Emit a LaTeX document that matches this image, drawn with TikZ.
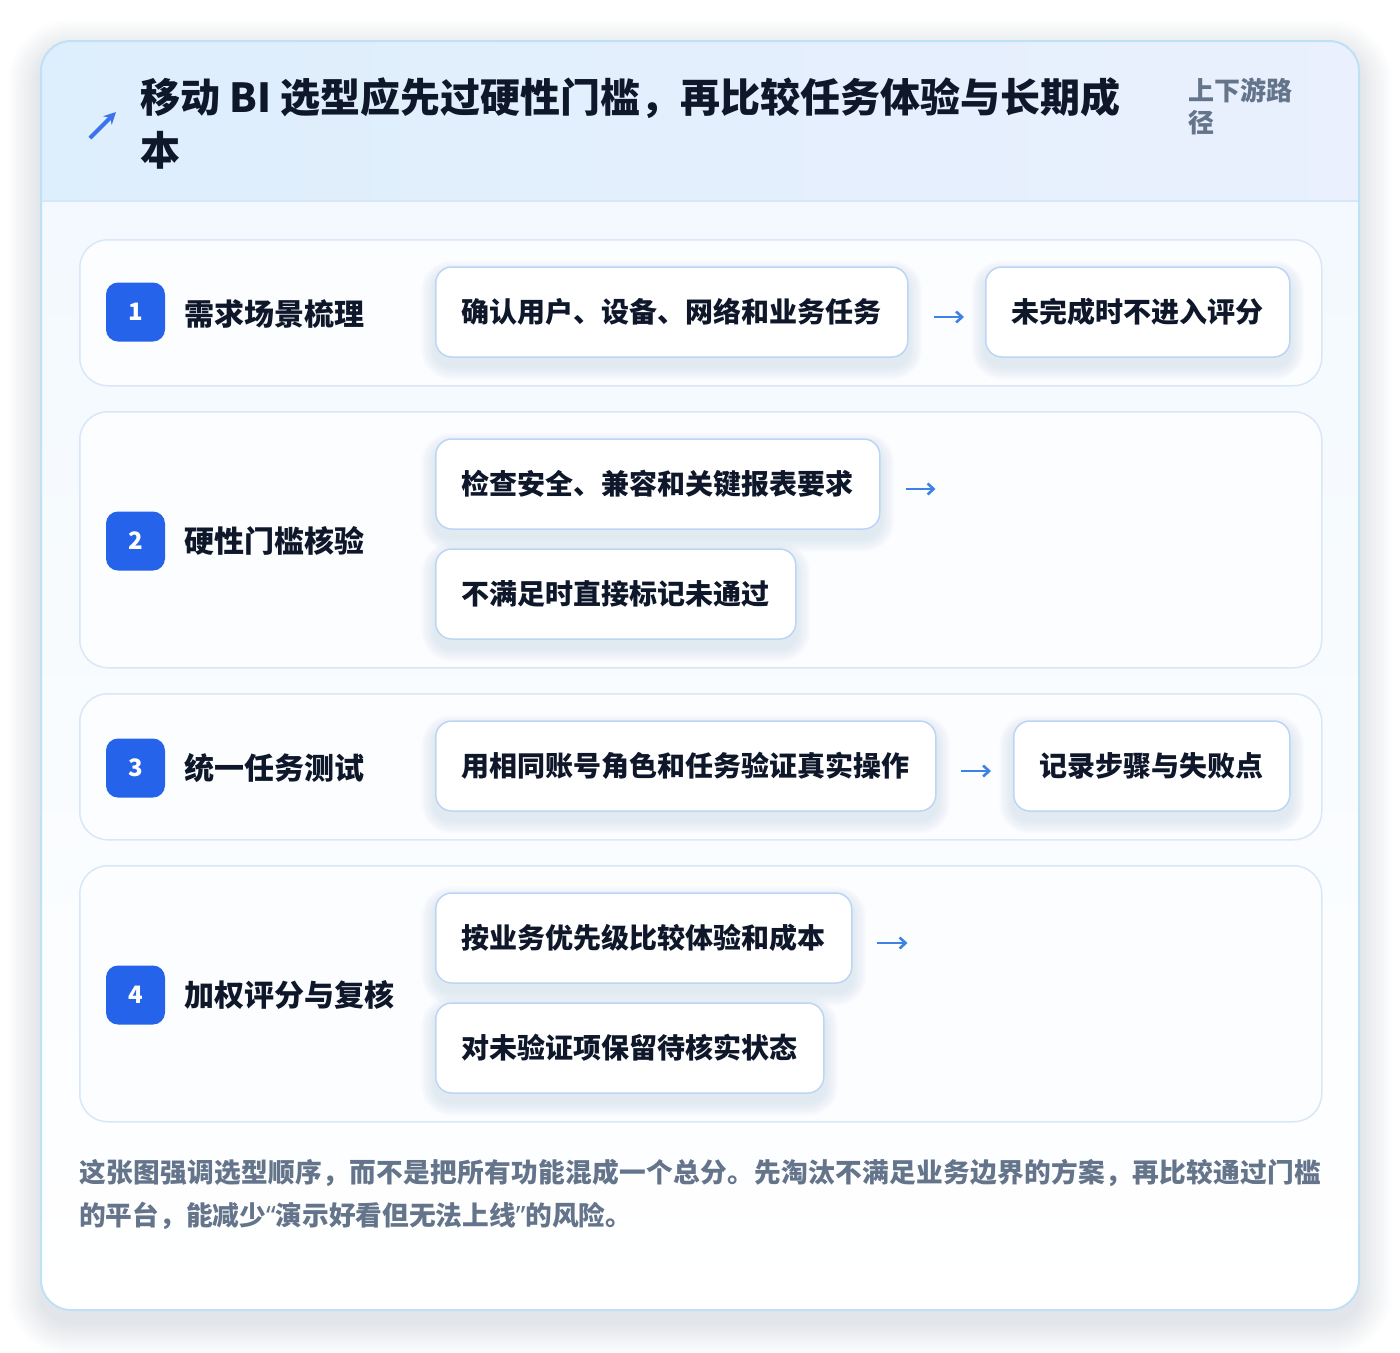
\documentclass[tikz,border=0pt]{standalone}
\usepackage{fontspec}
\setmainfont{Noto Sans CJK SC}
\newfontfamily\latinq{Noto Sans}
\usetikzlibrary{calc,arrows.meta}
\definecolor{ink}{HTML}{0F172A}
\definecolor{graytxt}{HTML}{64748B}
\definecolor{badgeblue}{HTML}{2563EB}
\definecolor{arrowblue}{HTML}{3F82E6}
\definecolor{boxline}{HTML}{BDD5F5}
\definecolor{panelline}{HTML}{D9E7F7}
\definecolor{panelfill}{HTML}{FBFDFF}
\definecolor{cardline}{HTML}{BFE1F5}
\definecolor{headl}{HTML}{DDEEFC}
\definecolor{headr}{HTML}{EAF0FD}
\definecolor{headline}{HTML}{D5E8F8}
\definecolor{bodytop}{HTML}{F1F8FE}
\definecolor{shadowcol}{HTML}{64748B}
\pgfdeclarelayer{bg}
\pgfdeclarelayer{panels}
\pgfdeclarelayer{shadow}
\pgfsetlayers{bg,panels,shadow,main}
\def\spreadaux#1#2{#1\ifx#2\relax\else\hfill\expandafter\spreadaux\expandafter#2\fi}
\newcommand{\spreadline}[2]{\hbox to #1{\spreadaux#2\relax}}
\newcommand{\boxshadow}[1]{%
  \begin{pgfonlayer}{shadow}
  \foreach \k in {1,...,14} {
    \pgfmathsetmacro{\rr}{16+\k}
    \fill[shadowcol, opacity=0.007, rounded corners=\rr pt]
      ($(#1.north west)+(-\k,-\k+8)$) rectangle ($(#1.south east)+(\k,\k+8)$);
  }
  \end{pgfonlayer}}
\begin{document}
\begin{tikzpicture}[x=1pt,y=-1pt,
  panel/.style={draw=panelline, line width=1.5pt, fill=panelfill, rounded corners=28pt, anchor=north west, minimum width=1242pt, inner sep=0pt},
  boxs/.style={draw=boxline, line width=1.5pt, fill=white, rounded corners=16pt, minimum height=90pt, inner xsep=26pt, anchor=west,
    font=\fontsize{28}{34}\selectfont\bfseries, text=ink},
  badge/.style={fill=badgeblue, rounded corners=12pt, minimum size=59pt, inner sep=0pt, text=white, font=\fontsize{24}{24}\selectfont\bfseries},
  rowlabel/.style={anchor=west, inner sep=0pt, text=ink, font=\fontsize{30}{36}\selectfont\bfseries},
  arr/.style={draw=arrowblue, line width=2.8pt, -{Straight Barb[length=6pt,width=11pt,line width=2.6pt]}},
  foot/.style={anchor=west, inner sep=0pt, text=graytxt, font=\fontsize{26.7}{32}\selectfont\bfseries}
]
\useasboundingbox (0,0) rectangle (1400,1352);
% card
\begin{pgfonlayer}{bg}
\foreach \k in {1,...,24} {
  \pgfmathsetmacro{\rr}{30+1.4*\k}
  \fill[shadowcol, opacity=0.006, rounded corners=\rr pt] ($(41,41)+(-1.4*\k,-1.4*\k+12)$) rectangle ($(1359,1310)+(1.4*\k,1.4*\k+12)$);
}
\fill[white, rounded corners=30pt] (41,41) rectangle (1359,1310);
\shade[rounded corners=30pt, top color=bodytop, bottom color=white] (41,41) rectangle (1359,1310);
\begin{scope}
  \clip[rounded corners=30pt] (41,41) rectangle (1359,1310);
  \shade[left color=headl, right color=headr] (41,41) rectangle (1359,201);
  \draw[headline, line width=1.5pt] (41,201) -- (1359,201);
\end{scope}
\draw[cardline, line width=2pt, rounded corners=30pt] (41,41) rectangle (1359,1310);
\end{pgfonlayer}
% header
\draw[badgeblue!90!white, line width=4pt, -{Stealth[length=12pt,width=12pt]}] (90,138) -- (116,112);
\node[anchor=west, inner sep=0pt, text=ink, font=\fontsize{40}{52}\selectfont\bfseries] (t1) at (140,98) {移动 BI 选型应先过硬性门槛，再比较任务体验与长期成};
\node[anchor=west, inner sep=0pt, text=ink, font=\fontsize{40}{52}\selectfont\bfseries] (t2) at (140,150) {本};
\node[anchor=west, inner sep=0pt, text=graytxt, font=\fontsize{26}{33}\selectfont\bfseries] (s1) at (1188,90) {上下游路};
\node[anchor=west, inner sep=0pt, text=graytxt, font=\fontsize{26}{33}\selectfont\bfseries] (s2) at (1188,123) {径};
% panels
\begin{pgfonlayer}{panels}
\node[panel, minimum height=146pt] (p1) at (79,239) {};
\node[panel, minimum height=256pt] (p2) at (79,411) {};
\node[panel, minimum height=146pt] (p3) at (79,693) {};
\node[panel, minimum height=256pt] (p4) at (79,865) {};
\end{pgfonlayer}
% row 1
\node[badge] (n1) at (135.5,312) {1};
\node[rowlabel] (l1) at (184,314) {需求场景梳理};
\node[boxs] (b11) at (435,312) {确认用户、设备、网络和业务任务};
\node[boxs] (b12) at (985,312) {未完成时不进入评分};
\draw[arr] ($(b11.east)+(25,5)$) -- ($(b12.west)+(-21,5)$);
% row 2
\node[badge] (n2) at (135.5,541) {2};
\node[rowlabel] (l2) at (184,541) {硬性门槛核验};
\node[boxs] (b21) at (435,484) {检查安全、兼容和关键报表要求};
\node[boxs] (b22) at (435,594) {不满足时直接标记未通过};
\coordinate (e2) at ($(b21.east)+(55,5)$);
\draw[arr] ($(b21.east)+(25,5)$) -- (e2);
% row 3
\node[badge] (n3) at (135.5,768) {3};
\node[rowlabel] (l3) at (184,768) {统一任务测试};
\node[boxs] (b31) at (435,766) {用相同账号角色和任务验证真实操作};
\node[boxs] (b32) at (1013,766) {记录步骤与失败点};
\draw[arr] ($(b31.east)+(24,5)$) -- ($(b32.west)+(-22,5)$);
% row 4
\node[badge] (n4) at (135.5,995) {4};
\node[rowlabel] (l4) at (184,995) {加权评分与复核};
\node[boxs] (b41) at (435,938) {按业务优先级比较体验和成本};
\node[boxs] (b42) at (435,1048) {对未验证项保留待核实状态};
\coordinate (e4) at ($(b41.east)+(55,5)$);
\draw[arr] ($(b41.east)+(24,5)$) -- (e4);
% shadows of boxes
\boxshadow{b11}\boxshadow{b12}\boxshadow{b21}\boxshadow{b22}
\boxshadow{b31}\boxshadow{b32}\boxshadow{b41}\boxshadow{b42}
% footer
\node[foot] (f1) at (79,1173) {\spreadline{1242pt}{这张图强调选型顺序，而不是把所有功能混成一个总分。先淘汰不满足业务边界的方案，再比较通过门槛}};
\node[foot] (f2) at (79,1216) {的平台，能减少{\latinq\bfseries“}演示好看但无法上线{\latinq\bfseries”}的风险。};
\end{tikzpicture}
\end{document}
